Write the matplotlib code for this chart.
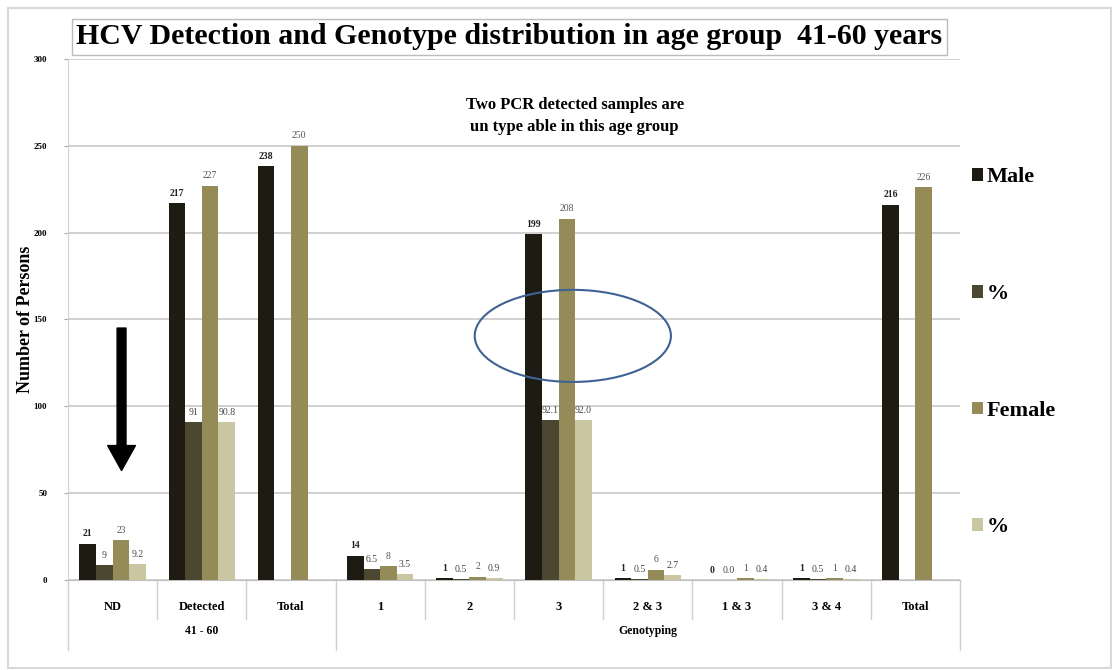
import numpy as np
import matplotlib.pyplot as plt
from matplotlib.patches import Ellipse, Patch
from matplotlib.transforms import blended_transform_factory

plt.rcParams['font.family'] = ['Liberation Serif', 'DejaVu Serif']

categories = ['ND', 'Detected', 'Total', '1', '2', '3', '2 & 3', '1 & 3', '3 & 4', 'Total']
male = [21, 217, 238, 14, 1, 199, 1, 0, 1, 216]
male_pct = [8.8, 91, None, 6.5, 0.5, 92.1, 0.5, 0.0, 0.5, None]
female = [23, 227, 250, 8, 2, 208, 6, 1, 1, 226]
female_pct = [9.2, 90.8, None, 3.5, 0.9, 92.0, 2.7, 0.4, 0.4, None]
male_pct_text = ['9', '91', '', '6.5', '0.5', '92.1', '0.5', '0.0', '0.5', '']
female_pct_text = ['9.2', '90.8', '', '3.5', '0.9', '92.0', '2.7', '0.4', '0.4', '']
groups = [('41 - 60', 0, 3), ('Genotyping', 3, 10)]
series_names = ['Male', '%', 'Female', '%']
colors = ['#1e1c12', '#4b4731', '#958b59', '#cbc6a2']

fig = plt.figure(figsize=(11.19, 6.70), dpi=100)
ax = fig.add_axes([0.0608, 0.1343, 0.797, 0.778])

x = np.arange(len(categories))
w = 0.186
offsets = np.array([-1.5, -0.5, 0.5, 1.5]) * w
series = [male, male_pct, female, female_pct]

def to_arr(vals):
    return np.array([np.nan if v is None else v for v in vals], dtype=float)

for s, (vals, off, col) in enumerate(zip(series, offsets, colors)):
    ax.bar(x + off, to_arr(vals), width=w, color=col, zorder=3)

# value labels above bars
for i in range(len(categories)):
    ax.text(x[i] + offsets[0], male[i] + 3, str(male[i]), ha='center', va='bottom',
            fontsize=7, fontweight='bold', color='#222222', zorder=4)
    ax.text(x[i] + offsets[2], female[i] + 3, str(female[i]), ha='center', va='bottom',
            fontsize=7, color='#555555', zorder=4)
    if male_pct[i] is not None:
        ax.text(x[i] + offsets[1], male_pct[i] + 3, male_pct_text[i], ha='center', va='bottom',
                fontsize=7, color='#444444', zorder=4)
    if female_pct[i] is not None:
        ax.text(x[i] + offsets[3], female_pct[i] + 3, female_pct_text[i], ha='center', va='bottom',
                fontsize=7, color='#444444', zorder=4)

ax.set_xlim(-0.5, len(categories) - 0.5)
ax.set_ylim(0, 300)
ax.set_yticks(np.arange(0, 301, 50))
ax.tick_params(axis='y', labelsize=6.5, length=3, color='#aaaaaa', pad=12)
for lbl in ax.get_yticklabels():
    lbl.set_fontweight('bold')
ax.yaxis.grid(True, color='#c8c8c8', linewidth=1.2, zorder=0)
ax.set_axisbelow(True)
for side in ['top', 'right']:
    ax.spines[side].set_visible(False)
ax.spines['left'].set_color('#d0d0d0')
ax.spines['bottom'].set_color('#c0c0c0')
ax.set_ylabel('Number of Persons', fontsize=13, fontweight='bold', labelpad=0)

ax.set_xticks(x)
ax.set_xticklabels(categories, fontsize=9, fontweight='bold')
ax.tick_params(axis='x', length=0, pad=15)

# two-level axis separators and group labels
trans = blended_transform_factory(ax.transData, ax.transAxes)
for b in np.arange(-0.5, len(categories), 1.0):
    outer = b in (-0.5, 2.5, len(categories) - 0.5)
    ax.plot([b, b], [0, -0.135 if outer else -0.075], transform=trans,
            color='#cfcfcf', linewidth=1, clip_on=False)
for name, start, end in groups:
    ax.text((start + end - 1) / 2, -0.097, name, transform=trans, ha='center', va='center',
            fontsize=8.5, fontweight='bold')

# annotation text
ax.text(5.18, 267, 'Two PCR detected samples are\nun type able in this age group',
        ha='center', va='center', fontsize=12, fontweight='bold', linespacing=1.45)

# arrow pointing at the not-detected group
ax.annotate('', xy=(0.1, 63), xytext=(0.1, 145),
            arrowprops=dict(arrowstyle='simple,head_length=0.9,head_width=1.0,tail_width=0.32',
                            mutation_scale=20, facecolor='black', edgecolor='black',
                            shrinkA=0, shrinkB=0))

# ellipse around genotype 3
ax.add_patch(Ellipse((5.16, 140.5), 2.2, 53, fill=False, edgecolor='#3f6294',
                     linewidth=1.5, zorder=5))

# title in a framed box
fig.text(0.455, 0.945, 'HCV Detection and Genotype distribution in age group  41-60 years',
         ha='center', va='center', fontsize=21.5, fontweight='bold',
         bbox=dict(boxstyle='square,pad=0.15', facecolor='white', edgecolor='#bbbbbb', linewidth=1))

# legend on the right
handles = [Patch(facecolor=c, edgecolor='none') for c in colors]
fig.legend(handles, series_names, loc='upper left', bbox_to_anchor=(0.851, 0.78),
           frameon=False, handlelength=0.5, handleheight=0.5,
           handletextpad=0.15, labelspacing=4.35, prop={'weight': 'bold', 'size': 16})

# outer frame
fig.patches.append(plt.Rectangle((0.007, 0.003), 0.986, 0.985, transform=fig.transFigure,
                                 fill=False, edgecolor='#d8d8d8', linewidth=1.5))

fig.savefig('out.png', dpi=100)
